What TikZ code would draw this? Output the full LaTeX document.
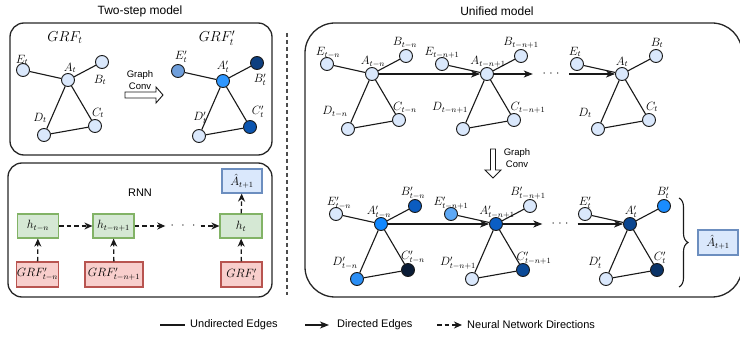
\documentclass[tikz,border=0pt]{standalone}
\usepackage{fontspec}
\setmainfont{Liberation Sans}
\usetikzlibrary{arrows.meta,calc,decorations.pathreplacing}
\definecolor{nlight}{HTML}{DAE8FC}
\definecolor{nborder}{HTML}{6C8EBF}
\definecolor{gfill}{HTML}{D5E8D4}
\definecolor{gdraw}{HTML}{82B366}
\definecolor{rfill}{HTML}{F8CECC}
\definecolor{rdraw}{HTML}{B85450}
\definecolor{cmedA}{HTML}{6F9FDC}
\definecolor{cbrA}{HTML}{2E97FF}
\definecolor{cnavyA}{HTML}{0D3F80}
\definecolor{cdarkA}{HTML}{0B55B0}
\definecolor{cbrB}{HTML}{1188FF}
\definecolor{cdarkB}{HTML}{0B5CC0}
\definecolor{cvdarkB}{HTML}{0A1C36}
\definecolor{cbrD}{HTML}{2A8EF5}
\definecolor{cmedC}{HTML}{5DA8F5}
\definecolor{cdarkC}{HTML}{0B5EC4}
\definecolor{cdarkC2}{HTML}{0B4A98}
\definecolor{cnavyE}{HTML}{0B4690}
\definecolor{cbrE}{HTML}{1A8CFF}
\definecolor{cnavyE2}{HTML}{0B3468}
\tikzset{
  vtx/.style={circle,draw=black!90,line width=0.9pt,minimum size=13pt,inner sep=0pt},
  edge/.style={line width=1.1pt,draw=black!90},
  diredge/.style={line width=1.1pt,draw=black!90,-{Stealth[length=9pt,width=7pt,inset=2.5pt]}},
  nnedge/.style={line width=1.3pt,draw=black!90,dash pattern=on 4.5pt off 3pt,-{Stealth[length=8pt,width=7pt,inset=2.5pt]}},
  lab/.style={inner sep=0pt,font=\fontsize{12}{14}\selectfont},
  panel/.style={draw=black!85,line width=1.3pt},
  gbox/.style={draw=gdraw,fill=gfill,line width=1.2pt,minimum width=41pt,minimum height=24pt,inner sep=0pt,font=\fontsize{12}{14}\selectfont},
  rbox/.style={draw=rdraw,fill=rfill,line width=1.2pt,minimum width=41pt,minimum height=25pt,inner sep=0pt,font=\fontsize{11.5}{14}\selectfont},
  abox/.style={draw=nborder,fill=nlight,line width=1.2pt,minimum width=40pt,minimum height=24pt,inner sep=0pt,font=\fontsize{11.5}{14}\selectfont},
  title/.style={inner sep=0pt,font=\fontsize{12}{14}\selectfont},
  small/.style={inner sep=0pt,font=\fontsize{9.5}{11}\selectfont},
  dotsn/.style={inner ysep=2pt,font=\fontsize{12}{14}\selectfont},
  hollow/.style={draw=black!90,line width=0.9pt,fill=white}
}
\newcommand{\grfgraph}[7]{%
  \node[vtx,fill=#3] (#1A) at (#2) {};
  \node[vtx,fill=#4] (#1B) at ($(#2)+(34,-18)$) {};
  \node[vtx,fill=#5] (#1C) at ($(#2)+(27,46)$) {};
  \node[vtx,fill=#6] (#1D) at ($(#2)+(-24,55)$) {};
  \node[vtx,fill=#7] (#1E) at ($(#2)+(-45,-10)$) {};
  \draw[edge] (#1E) -- (#1A) (#1A) -- (#1B) (#1A) -- (#1D) (#1A) -- (#1C) (#1D) -- (#1C);
}
\begin{document}
\begin{tikzpicture}[x=1pt,y=-1pt]
\useasboundingbox (0,0) rectangle (740,339);
% titles
\node[title] (t1) at (140,11) {Two-step model};
\node[title] (t2) at (497,11) {Unified model};
% panels
\draw[panel,rounded corners=14pt] (10,23) rectangle (272,155);
\draw[panel,rounded corners=14pt] (8,163) rectangle (272,297);
\draw[panel,rounded corners=30pt] (305,23) rectangle (742,297);
% separator
\coordinate (sepT) at (287,33);
\coordinate (sepB) at (287,295);
\draw[line width=1.2pt,black!70,dash pattern=on 4pt off 3pt] (sepT) -- (sepB);

% ---- top-left graphs
\grfgraph{p}{68,80}{nlight}{nlight}{nlight}{nlight}{nlight}
\grfgraph{q}{223,81}{cbrA}{cnavyA}{cdarkA}{nlight}{cmedA}
\node[lab,font=\fontsize{14}{16}\selectfont] (pG) at (65,38) {$GRF_t$};
\node[lab] (pEl) at (22,60) {$E_t$};
\node[lab] (pAl) at (70,68) {$A_t$};
\node[lab] (pBl) at (100,80) {$B_t$};
\node[lab] (pDl) at (40,118) {$D_t$};
\node[lab] (pCl) at (98,113) {$C_t$};
\node[lab,font=\fontsize{14}{16}\selectfont] (qG) at (217,38) {$GRF'_t$};
\node[lab] (qEl) at (181,57) {$E'_t$};
\node[lab] (qAl) at (223,67) {$A'_t$};
\node[lab] (qBl) at (260,80) {$B'_t$};
\node[lab] (qDl) at (200,118) {$D'_t$};
\node[lab] (qCl) at (258,112) {$C'_t$};
% graph conv arrow (horizontal)
\draw[hollow] (125,92) -- (156,92) -- (156,87) -- (163,95) -- (156,103) -- (156,98) -- (125,98) -- cycle;
\node[small] (gc1) at (140,75) {Graph};
\node[small] (gc2) at (140,86) {Conv};

% ---- RNN panel
\node[title,font=\fontsize{11}{13}\selectfont] (rnn) at (140,193) {RNN};
\node[gbox] (h1) at (38,226) {$h_{t-n}$};
\node[gbox] (h2) at (113.5,226) {$h_{t-n+1}$};
\node[gbox,minimum width=42pt] (h3) at (241,226) {$h_t$};
\node[abox] (ah1) at (242,181) {$\hat{A}_{t+1}$};
\node[rbox] (g1) at (37.5,274.5) {$GRF'_{t-n}$};
\node[rbox,minimum width=58pt] (g2) at (114,274.5) {$GRF'_{t-n+1}$};
\node[rbox] (g3) at (241.5,274.5) {$GRF'_t$};
\node[dotsn,inner xsep=5pt] (hd) at (183,226) {$\cdotp$\hspace{7.5pt}$\cdotp$\hspace{7.5pt}$\cdotp$};
\draw[nnedge] (h1) -- (h2);
\draw[nnedge] (h2) -- (hd);
\draw[nnedge] (hd) -- (h3);
\draw[nnedge] (g1) -- (h1);
\draw[nnedge] (g2) -- (h2);
\draw[nnedge] (g3) -- (h3);
\draw[nnedge] (h3) -- (ah1);

% ---- unified: top row
\grfgraph{r}{372,74}{nlight}{nlight}{nlight}{nlight}{nlight}
\grfgraph{s}{487,74}{nlight}{nlight}{nlight}{nlight}{nlight}
\grfgraph{u}{622,74}{nlight}{nlight}{nlight}{nlight}{nlight}
\node[lab] (rEl) at (328,53) {$E_{t-n}$};
\node[lab] (rAl) at (373,62) {$A_{t-n}$};
\node[lab] (rBl) at (405,43) {$B_{t-n}$};
\node[lab] (rDl) at (335,112) {$D_{t-n}$};
\node[lab] (rCl) at (405,108) {$C_{t-n}$};
\node[lab] (sEl) at (442,53) {$E_{t-n+1}$};
\node[lab] (sAl) at (488,62) {$A_{t-n+1}$};
\node[lab] (sBl) at (521,43) {$B_{t-n+1}$};
\node[lab] (sDl) at (450,108) {$D_{t-n+1}$};
\node[lab] (sCl) at (528,108) {$C_{t-n+1}$};
\node[lab] (uEl) at (575,52) {$E_t$};
\node[lab] (uAl) at (622,62) {$A_t$};
\node[lab] (uBl) at (657,43) {$B_t$};
\node[lab] (uDl) at (585,113) {$D_t$};
\node[lab] (uCl) at (652,107) {$C_t$};
\node[dotsn,inner xsep=9.5pt] (rd) at (551,74) {$\cdotp$\hspace{3.5pt}$\cdotp$\hspace{3.5pt}$\cdotp$};
\draw[diredge] (rA) -- (sA);
\draw[diredge] (sA) -- (rd);
\draw[diredge] (rd) -- (uA);

% graph conv arrow (vertical)
\draw[hollow] (490.5,149) -- (490.5,170) -- (485,170) -- (493,178) -- (501,170) -- (495.5,170) -- (495.5,149) -- cycle;
\node[small] (gc3) at (517,153) {Graph};
\node[small] (gc4) at (517,164) {Conv};

% ---- unified: bottom row
\grfgraph{v}{381,224}{cbrB}{cdarkB}{cvdarkB}{cbrD}{nlight}
\grfgraph{w}{496,224}{cdarkC}{nlight}{cdarkC2}{nlight}{cmedC}
\grfgraph{z}{630,224}{cnavyE}{cbrE}{cnavyE2}{nlight}{nlight}
\node[lab] (vEl) at (339,203) {$E'_{t-n}$};
\node[lab] (vAl) at (379,212) {$A'_{t-n}$};
\node[lab] (vBl) at (413,193) {$B'_{t-n}$};
\node[lab] (vDl) at (345,263) {$D'_{t-n}$};
\node[lab] (vCl) at (413,257) {$C'_{t-n}$};
\node[lab] (wEl) at (451,203) {$E'_{t-n+1}$};
\node[lab] (wAl) at (497,212) {$A'_{t-n+1}$};
\node[lab] (wBl) at (528,193) {$B'_{t-n+1}$};
\node[lab] (wDl) at (458,263) {$D'_{t-n+1}$};
\node[lab] (wCl) at (534,258) {$C'_{t-n+1}$};
\node[lab] (zEl) at (585,203) {$E'_t$};
\node[lab] (zAl) at (631,212) {$A'_t$};
\node[lab] (zBl) at (663,193) {$B'_t$};
\node[lab] (zDl) at (595,263) {$D'_t$};
\node[lab] (zCl) at (660,258) {$C'_t$};
\node[dotsn,inner xsep=9pt] (vd) at (560,224) {$\cdotp$\hspace{3.5pt}$\cdotp$\hspace{3.5pt}$\cdotp$};
\draw[diredge] (vA) -- (wA);
\draw[diredge] (wA) -- (vd);
\draw[diredge] (vd) -- (zA);

% brace and output
\coordinate (brT) at (679,198);
\coordinate (brB) at (679,287);
\draw[line width=1.1pt,black!90,decorate,decoration={brace,amplitude=9pt}] (brT) -- (brB);
\node[abox,minimum height=25pt] (ah2) at (718,242.5) {$\hat{A}_{t+1}$};

% ---- legend
\coordinate (l1a) at (160,325);
\coordinate (l1b) at (185,325);
\draw[edge] (l1a) -- (l1b);
\node[inner sep=0pt,anchor=west,font=\fontsize{11}{13}\selectfont] (lt1) at (190,325) {Undirected Edges};
\coordinate (l2a) at (305,325);
\coordinate (l2b) at (329,325);
\draw[diredge] (l2a) -- (l2b);
\node[inner sep=0pt,anchor=west,font=\fontsize{11}{13}\selectfont] (lt2) at (337,325) {Directed Edges};
\coordinate (l3a) at (437,325);
\coordinate (l3b) at (462,325);
\draw[nnedge] (l3a) -- (l3b);
\node[inner sep=0pt,anchor=west,font=\fontsize{11}{13}\selectfont] (lt3) at (467,325) {Neural Network Directions};
\end{tikzpicture}
\end{document}
